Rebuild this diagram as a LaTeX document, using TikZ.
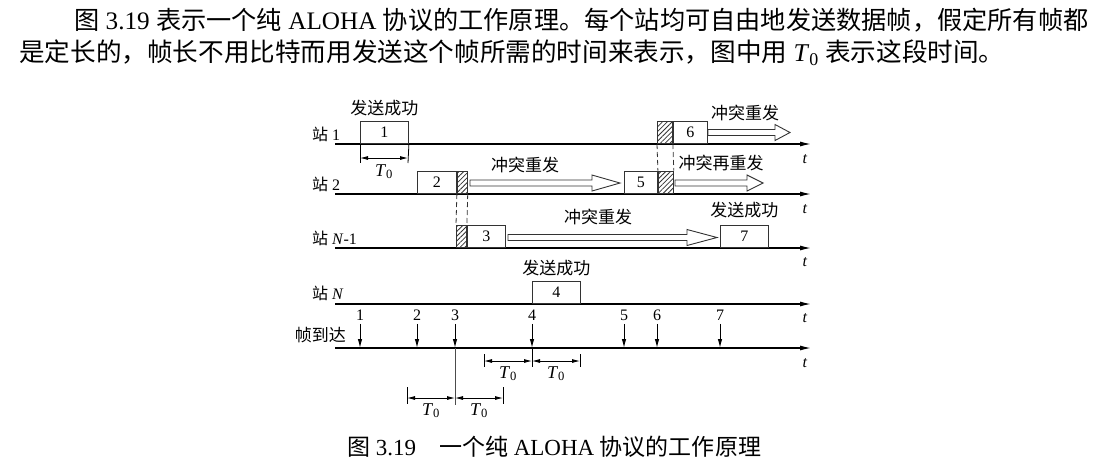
\documentclass[tikz,border=0pt]{standalone}
\usepackage{fontspec}
\setmainfont{Liberation Serif}
\newfontfamily\cjk{Noto Sans CJK SC}
\usepackage{tikz}
\usetikzlibrary{arrows.meta,positioning,patterns.meta}
\newcommand\zh[1]{{\cjk #1}}
\newcommand\Tz{\textit{T}\textsubscript{0}}

\begin{document}
\begin{tikzpicture}[x=1pt,y=-1pt,
  font=\fontsize{16}{19}\selectfont,
  frame/.style={draw=black!80,line width=0.9pt,minimum height=22.5pt,inner sep=0pt,anchor=south west},
  hatch/.style={frame,pattern={Lines[angle=45,distance=3.4pt,line width=0.8pt]},pattern color=black!80},
  axis/.style={line width=1.2pt,-{Latex[length=11pt,width=5pt]}},
  arrival/.style={line width=1pt,-{Latex[length=9pt,width=4.5pt]}},
  dim/.style={line width=0.8pt,{Latex[length=8pt,width=4pt]}-{Latex[length=8pt,width=4pt]}},
  tick/.style={line width=0.8pt},
  hollow/.style={draw=black!80,line width=0.9pt,fill=white},
  zhlabel/.style={font=\fontsize{17}{20}\selectfont\cjk,inner sep=1pt},
  tlabel/.style={font=\fontsize{18}{20}\selectfont,inner sep=1pt},
  coll/.style={draw=black!80,dash pattern=on 5pt off 3pt,line width=0.8pt}]
  \useasboundingbox (0,0) rectangle (1100,467);
  \fill[white] (0,0) rectangle (1100,467);
  % text of the page
  \node[anchor=west,inner sep=0pt,font=\fontsize{25.2}{30}\selectfont] (para1) at (74,20)
    {\zh{图} 3.19 \zh{表示一个纯} ALOHA \zh{协议的工作原理。每个站均可自由地发送数据帧，假定所有帧都}};
  \node[anchor=west,inner sep=0pt,font=\fontsize{25.6}{30}\selectfont] (para2) at (19,53)
    {\zh{是定长的，帧长不用比特而用发送这个帧所需的时间来表示，图中用} \Tz\ \zh{表示这段时间。}};
  \node[font=\fontsize{23}{26}\selectfont] (cap) at (554,447)
    {\zh{图} 3.19\hspace{1em}\zh{一个纯} ALOHA \zh{协议的工作原理}};
  % time axes
  \coordinate (a1) at (335,144); \coordinate (b1) at (811,144);
  \coordinate (a2) at (335,194); \coordinate (b2) at (811,194);
  \coordinate (a3) at (335,248); \coordinate (b3) at (811,248);
  \coordinate (a4) at (335,304); \coordinate (b4) at (811,304);
  \coordinate (a5) at (335,348); \coordinate (b5) at (811,348);
  \draw[axis] (a1) -- (b1);
  \draw[axis] (a2) -- (b2);
  \draw[axis] (a3) -- (b3);
  \draw[axis] (a4) -- (b4);
  \draw[axis] (a5) -- (b5);
  \node (t1) at (805,159) {\textit{t}};
  \node (t2) at (805,209) {\textit{t}};
  \node (t3) at (805,262) {\textit{t}};
  \node (t4) at (805,318) {\textit{t}};
  \node (t5) at (805,363) {\textit{t}};
  \node[anchor=west,inner sep=0pt] (st1) at (312,134) {\zh{站} 1};
  \node[anchor=west,inner sep=0pt] (st2) at (312,184) {\zh{站} 2};
  \node[anchor=west,inner sep=0pt] (st3) at (312,238) {\zh{站} \textit{N}-1};
  \node[anchor=west,inner sep=0pt] (st4) at (312,293) {\zh{站} \textit{N}};
  \node[zhlabel,anchor=east] (arr) at (347,335) {帧到达};
  % frames
  \node[frame,minimum width=48pt] (f1) at (360,144) {1};
  \node[frame,minimum width=39pt] (f2) at (417,194) {2};
  \node[hatch,minimum width=10pt] (h2) at (f2.south east) {};
  \node[hatch,minimum width=10pt] (h3) at (456,248) {};
  \node[frame,minimum width=38pt] (f3) at (h3.south east) {3};
  \node[frame,minimum width=48pt] (f4) at (532,304) {4};
  \node[frame,minimum width=33pt] (f5) at (624,194) {5};
  \node[hatch,minimum width=15pt] (h5) at (f5.south east) {};
  \node[hatch,minimum width=15pt] (h6) at (657,144) {};
  \node[frame,minimum width=34pt] (f6) at (h6.south east) {6};
  \node[frame,minimum width=48pt] (f7) at (720,248) {7};
  \draw[coll] (h6.south west) -- (h5.north west);
  \draw[coll] (h6.south east) -- (h5.north east);
  \draw[coll] (h2.south west) -- (h3.north west);
  \draw[coll] (h2.south east) -- (h3.north east);
  \node[zhlabel,above=3pt of f1] (ok1) {发送成功};
  \node[zhlabel,above=3pt of f4] (ok4) {发送成功};
  \node[zhlabel,above=5pt of f7] (ok7) {发送成功};
  % retransmissions
  \draw[hollow] (470,180) -- (592,180) -- (592,175) -- (620,183) -- (592,191) -- (592,186) -- (470,186) -- cycle;
  \draw[hollow] (508,234.5) -- (687,234.5) -- (687,229.5) -- (717,237.5) -- (687,245.5) -- (687,240.5) -- (508,240.5) -- cycle;
  \draw[hollow] (675,180) -- (747,180) -- (747,175) -- (763,183) -- (747,191) -- (747,186) -- (675,186) -- cycle;
  \draw[hollow] (708,129.5) -- (775,129.5) -- (775,124.5) -- (790,132.5) -- (775,140.5) -- (775,135.5) -- (708,135.5) -- cycle;
  \node[zhlabel] (re2) at (525,165) {冲突重发};
  \node[zhlabel] (re3) at (598,217) {冲突重发};
  \node[zhlabel] (re5) at (721,163) {冲突再重发};
  \node[zhlabel] (re6) at (745,113) {冲突重发};
  % frame length
  \coordinate (d1a) at (360,158); \coordinate (d1b) at (408,158);
  \draw[tick] (f1.south west) -- (360,163);
  \draw[tick] (f1.south east) -- (408,163);
  \draw[dim] (d1a) -- (d1b) node[tlabel,midway,below=5pt] (len1) {\Tz};
  % arrivals
  \node (n1) at (360,315) {1};
  \node (n2) at (417,315) {2};
  \node (n3) at (455,315) {3};
  \node (n4) at (532,315) {4};
  \node (n5) at (624,315) {5};
  \node (n6) at (657,315) {6};
  \node (n7) at (720,315) {7};
  \draw[arrival] (n1.south) -- (n1 |- a5);
  \draw[arrival] (n2.south) -- (n2 |- a5);
  \draw[arrival] (n3.south) -- (n3 |- a5);
  \draw[arrival] (n4.south) -- (n4 |- a5);
  \draw[arrival] (n5.south) -- (n5 |- a5);
  \draw[arrival] (n6.south) -- (n6 |- a5);
  \draw[arrival] (n7.south) -- (n7 |- a5);
  % vulnerable periods
  \coordinate (p1) at (484,361); \coordinate (p2) at (532,361); \coordinate (p3) at (580,361);
  \draw[tick] (484,354) -- (484,367);
  \draw[tick] (n4 |- a5) -- (532,367);
  \draw[tick] (580,354) -- (580,367);
  \draw[dim] (p1) -- (p2) node[tlabel,midway,below=4pt] (v1) {\Tz};
  \draw[dim] (p2) -- (p3) node[tlabel,midway,below=4pt] (v2) {\Tz};
  \coordinate (q1) at (407,398); \coordinate (q2) at (455,398); \coordinate (q3) at (503,398);
  \draw[tick] (407,387) -- (407,404);
  \draw[line width=0.6pt,black!70] (n3 |- a5) -- (455,405);
  \draw[tick] (503,387) -- (503,404);
  \draw[dim] (q1) -- (q2) node[tlabel,midway,below=4pt] (v3) {\Tz};
  \draw[dim] (q2) -- (q3) node[tlabel,midway,below=4pt] (v4) {\Tz};
\end{tikzpicture}
\end{document}
